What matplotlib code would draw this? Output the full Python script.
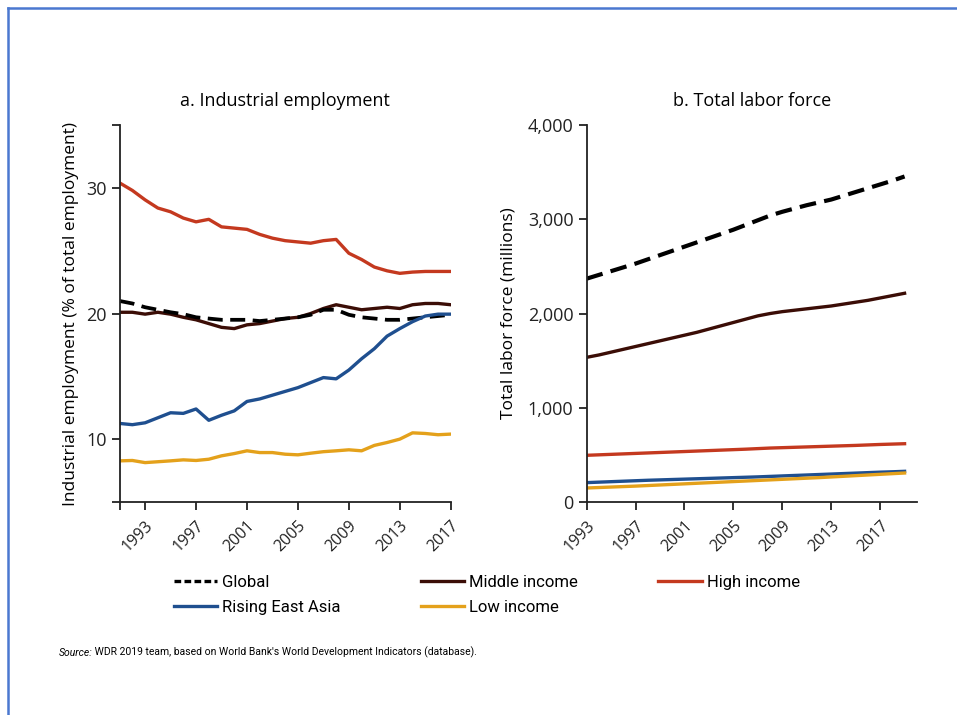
import matplotlib
matplotlib.use("Agg")
import matplotlib.pyplot as plt
from matplotlib.lines import Line2D

plt.rcParams['font.family'] = ['Open Sans', 'DejaVu Sans']

# panel a: industrial employment, % of total employment
years_a = list(range(1991, 2018))
global_a = [21.0, 20.8, 20.5, 20.3, 20.1, 19.95, 19.7, 19.6, 19.5, 19.5, 19.5, 19.4, 19.5, 19.6,
            19.7, 19.9, 20.3, 20.3, 19.9, 19.7, 19.6, 19.5, 19.5, 19.6, 19.7, 19.8, 19.9]
middle_a = [20.1, 20.1, 19.95, 20.1, 19.95, 19.7, 19.5, 19.2, 18.9, 18.8, 19.1, 19.2, 19.4, 19.6,
            19.7, 20.0, 20.4, 20.7, 20.5, 20.3, 20.4, 20.5, 20.4, 20.7, 20.8, 20.8, 20.7]
high_a = [30.4, 29.8, 29.05, 28.4, 28.1, 27.6, 27.3, 27.5, 26.9, 26.8, 26.7, 26.3, 26.0, 25.8,
          25.7, 25.6, 25.8, 25.9, 24.8, 24.3, 23.7, 23.4, 23.2, 23.3, 23.35, 23.35, 23.35]
asia_a = [11.25, 11.15, 11.3, 11.7, 12.1, 12.05, 12.4, 11.5, 11.9, 12.25, 13.0, 13.2, 13.5, 13.8,
          14.1, 14.5, 14.9, 14.8, 15.5, 16.4, 17.2, 18.2, 18.8, 19.35, 19.8, 19.95, 19.95]
low_a = [8.27, 8.3, 8.13, 8.2, 8.27, 8.35, 8.3, 8.4, 8.67, 8.85, 9.07, 8.93, 8.93, 8.8,
         8.75, 8.88, 9.0, 9.07, 9.15, 9.07, 9.5, 9.73, 10.0, 10.5, 10.45, 10.35, 10.4]

# panel b: total labor force, millions
years_b = list(range(1993, 2020))
global_b = [2370, 2410, 2450, 2490, 2530, 2575, 2620, 2665, 2710, 2755, 2800, 2845, 2890, 2940,
            2990, 3040, 3080, 3115, 3150, 3180, 3210, 3250, 3290, 3330, 3370, 3410, 3455]
middle_b = [1535, 1560, 1590, 1620, 1650, 1680, 1710, 1740, 1770, 1800, 1835, 1870, 1905, 1940,
            1975, 2000, 2020, 2035, 2050, 2065, 2080, 2100, 2120, 2140, 2165, 2190, 2215]
high_b = [495, 500, 505, 510, 515, 520, 525, 530, 535, 540, 545, 550, 555, 560,
          566, 572, 576, 580, 584, 588, 592, 596, 600, 605, 610, 614, 618]
asia_b = [205, 210, 215, 220, 225, 230, 234, 238, 242, 246, 250, 254, 258, 262,
          266, 271, 276, 281, 286, 291, 296, 301, 306, 311, 316, 320, 325]
low_b = [148, 153, 158, 163, 168, 174, 180, 186, 192, 198, 204, 210, 216, 222,
         228, 234, 240, 246, 252, 258, 265, 272, 279, 286, 293, 300, 307]

xticks = [1993, 1997, 2001, 2005, 2009, 2013, 2017]

c_global = 'black'
c_middle = '#3b0d06'
c_high = '#c4391f'
c_asia = '#1f4f8f'
c_low = '#e4a11b'
lw = 2.4
narrow = ['Roboto', 'DejaVu Sans']

fig = plt.figure(figsize=(9.57, 7.15), dpi=100)
ax1 = fig.add_axes([0.125, 0.298, 0.346, 0.527])
ax2 = fig.add_axes([0.613, 0.298, 0.345, 0.527])

ax1.plot(years_a, high_a, color=c_high, lw=lw)
ax1.plot(years_a, middle_a, color=c_middle, lw=lw)
ax1.plot(years_a, global_a, color=c_global, lw=lw + 0.3, dashes=(4, 2))
ax1.plot(years_a, asia_a, color=c_asia, lw=lw)
ax1.plot(years_a, low_a, color=c_low, lw=lw)

ax2.plot(years_b, high_b, color=c_high, lw=lw)
ax2.plot(years_b, middle_b, color=c_middle, lw=lw)
ax2.plot(years_b, global_b, color=c_global, lw=lw + 0.6, dashes=(4, 2))
ax2.plot(years_b, asia_b, color=c_asia, lw=lw)
ax2.plot(years_b, low_b, color=c_low, lw=lw)

ax1.set_xlim(1991, 2017)
ax1.set_ylim(5, 35)
ax1.set_xticks([1991] + xticks)
ax1.set_xticklabels([''] + [str(y) for y in xticks])
ax1.set_yticks([5, 10, 20, 30, 35])
ax1.set_yticklabels(['', '10', '20', '30', ''])
ax1.set_ylabel('Industrial employment (% of total employment)', fontsize=12.5, labelpad=5)
ax1.set_title('a. Industrial employment', fontsize=13, pad=14)

ax2.set_xlim(1993, 2020)
ax2.set_ylim(0, 4000)
ax2.set_xticks(xticks)
ax2.set_yticks([0, 1000, 2000, 3000, 4000])
ax2.set_yticklabels(['0', '1,000', '2,000', '3,000', '4,000'])
ax2.set_ylabel('Total labor force (millions)', fontsize=12.5, labelpad=8)
ax2.set_title('b. Total labor force', fontsize=13, pad=14)

for ax in (ax1, ax2):
    for s in ('top', 'right'):
        ax.spines[s].set_visible(False)
    for s in ('left', 'bottom'):
        ax.spines[s].set_linewidth(1.3)
        ax.spines[s].set_color('#222222')
    ax.tick_params(direction='out', length=6, width=1.3, colors='#222222', labelsize=13)
    ax.tick_params(axis='x', labelsize=11.5, pad=5)
    for lab in ax.get_xticklabels():
        lab.set_rotation(45)
        lab.set_ha('right')
        lab.set_rotation_mode('anchor')

handles = [
    Line2D([], [], color=c_global, lw=lw, dashes=(2, 1)),
    Line2D([], [], color=c_asia, lw=lw),
    Line2D([], [], color=c_middle, lw=lw),
    Line2D([], [], color=c_low, lw=lw),
    Line2D([], [], color=c_high, lw=lw),
    Line2D([], [], color='none'),
]
labels = ['Global', 'Rising East Asia', 'Middle income', 'Low income', 'High income', '']
fig.legend(handles, labels, ncol=3, loc='upper left', bbox_to_anchor=(0.175, 0.205),
           frameon=False, handlelength=2.6, handletextpad=0.3,
           columnspacing=4.8, labelspacing=0.6, borderaxespad=0,
           prop={'family': narrow, 'size': 12})

t1 = fig.text(0.061, 0.082, 'Source:', fontsize=7.5, style='italic',
              family=narrow, va='baseline')
ax1.annotate(" WDR 2019 team, based on World Bank's World Development Indicators (database).",
             xy=(1, 0), xycoords=t1, va='bottom', ha='left', fontsize=7.5,
             family=narrow, annotation_clip=False)

# blue frame on top and left edge
fig.add_artist(Line2D([0.008, 1.0], [0.989, 0.989], transform=fig.transFigure,
                      color='#4a78d0', lw=1.8))
fig.add_artist(Line2D([0.008, 0.008], [0.0, 0.989], transform=fig.transFigure,
                      color='#4a78d0', lw=1.8))

fig.savefig('out.png', dpi=100)
